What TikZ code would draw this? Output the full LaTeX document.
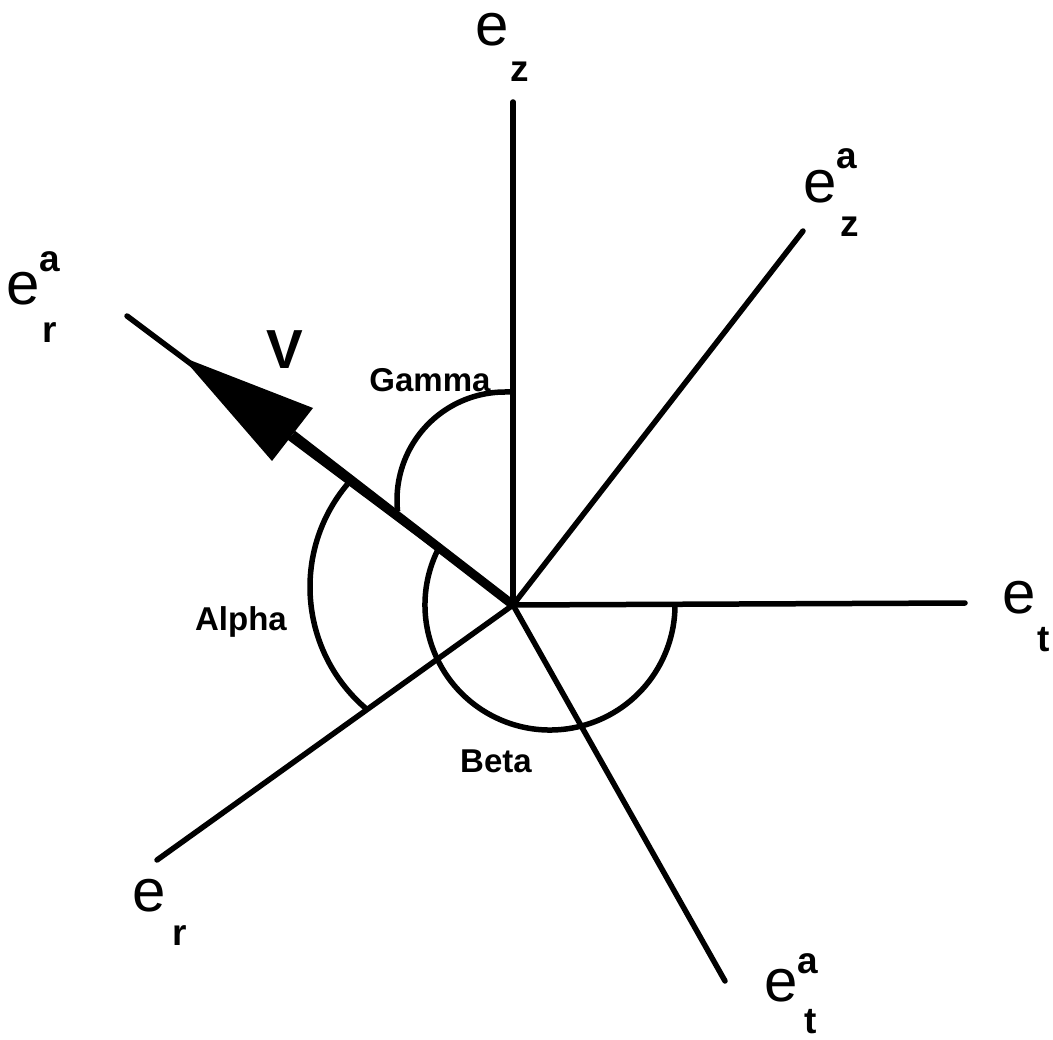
\documentclass[tikz,border=0pt]{standalone}
\usepackage{fontspec}
\setmainfont{Liberation Sans}
\begin{document}
\begin{tikzpicture}[x=1pt,y=1pt,
  axis/.style={line width=5.5pt,line cap=round},
  arcline/.style={line width=5.5pt},
  big/.style={font=\fontsize{60}{60}\selectfont,inner sep=0pt},
  small/.style={font=\bfseries\fontsize{37}{37}\selectfont,inner sep=0pt},
  angl/.style={font=\bfseries\fontsize{33}{33}\selectfont,inner sep=0pt,anchor=base},
  vlab/.style={font=\bfseries\fontsize{55}{55}\selectfont,inner sep=0pt,anchor=base}
]
\useasboundingbox (0,0) rectangle (1053,-1040);
% origin and axis ends
\coordinate (O) at (513,-605);
\coordinate (ez) at (513,-102);
\coordinate (eza) at (803,-231);
\coordinate (et) at (965,-603);
\coordinate (eta) at (725,-981);
\coordinate (er) at (157,-860);
\coordinate (era) at (127,-316);
% axes
\draw[axis] (O) -- (ez);
\draw[axis] (O) -- (eza);
\draw[axis] (O) -- (et);
\draw[axis] (O) -- (eta);
\draw[axis] (O) -- (er);
\draw[axis] (O) -- (era);
% angle arcs
\coordinate (gs) at (513,-392);
\draw[arcline] (gs) -- (505,-392) arc (90:186:108pt);
\draw[arcline] ([shift={(140:160pt)}]470,-587) arc (140:230:160pt);
\draw[arcline] ([shift={(153:125pt)}]550,-605) arc (153:360:125pt);
% vector V
\coordinate (Vb) at (292.5,-434.5);
\coordinate (Vt) at (182,-357);
\coordinate (Vc1) at (313,-408);
\coordinate (Vc2) at (272,-461);
\draw[line width=9pt] (O) -- (Vb);
\fill (Vt) -- (Vc1) -- (Vc2) -- cycle;
\node[vlab] (V) at (285,-369) {V};
% angle labels
\node[angl] (gamma) at (430,-392) {Gamma};
\node[angl] (alpha) at (241,-630) {Alpha};
\node[angl] (beta) at (496,-772) {Beta};
% axis labels
\node[big] (lez) at (492,-29.5) {e};
\node[small] (lezs) at (520,-72) {z};
\node[big] (leza) at (820.5,-186.5) {e};
\node[small] (lezaa) at (847,-158.5) {a};
\node[small] (lezas) at (849.5,-227) {z};
\node[big] (lera) at (23.5,-288.5) {e};
\node[small] (leraa) at (50,-261.5) {a};
\node[small] (leras) at (50,-333) {r};
\node[big] (ler) at (149,-896) {e};
\node[small] (lers) at (180,-936) {r};
\node[big] (let) at (1019,-598) {e};
\node[small] (lets) at (1044,-639.5) {t};
\node[big] (leta) at (781,-986) {e};
\node[small] (letaa) at (808,-964) {a};
\node[small] (letas) at (810.5,-1022) {t};
\end{tikzpicture}
\end{document}
